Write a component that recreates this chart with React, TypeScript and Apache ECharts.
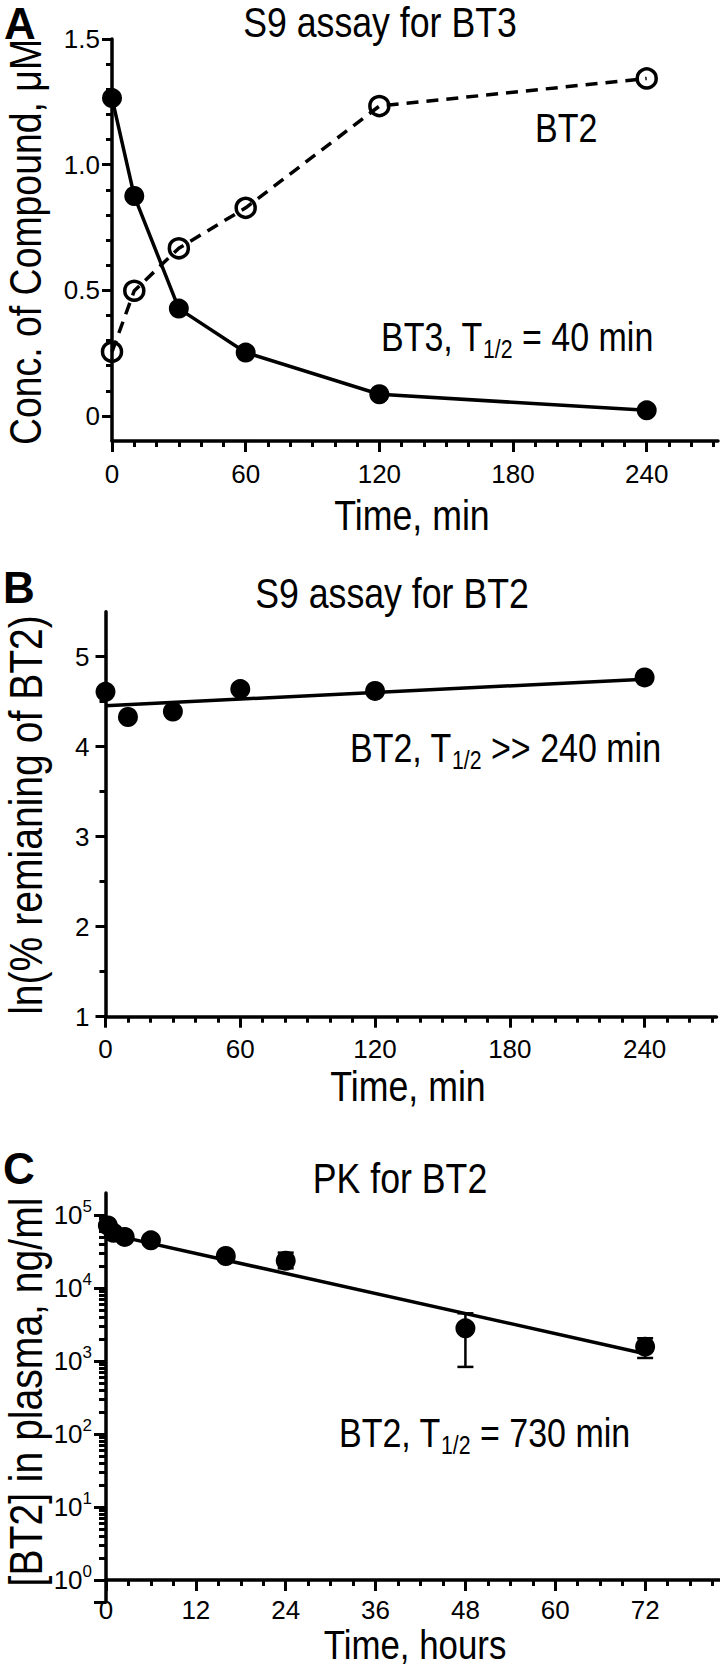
import React, { useEffect, useRef } from "react";
import * as echarts from "echarts";

const SANS = "'Liberation Sans', Arial, Helvetica, sans-serif";
const NARROW = 0.85;

// ---------- Panel A: S9 assay for BT3 ----------
const timeA = [0, 10, 30, 60, 120, 240];
const bt3A = [1.265, 0.875, 0.427, 0.252, 0.086, 0.022];
const bt2A = [0.255, 0.498, 0.667, 0.828, 1.233, 1.343];
const xMajorA = [0, 60, 120, 180, 240];
const xMinorA = [10, 20, 30, 40, 50, 70, 80, 90, 100, 110, 130, 140, 150, 160, 170, 190, 200, 210, 220, 230, 250, 260, 270];
const yMajorA = [0, 0.5, 1.0, 1.5];
const yMinorA = [0.1, 0.2, 0.3, 0.4, 0.6, 0.7, 0.8, 0.9, 1.1, 1.2, 1.3, 1.4];

// ---------- Panel B: S9 assay for BT2 ----------
const timeB = [0, 10, 30, 60, 120, 240];
const lnB = [4.61, 4.33, 4.39, 4.64, 4.62, 4.77];
const fitTimeB = [0, 240];
const fitLnB = [4.455, 4.75];
const yMajorB = [1, 2, 3, 4, 5];
const yMinorB = [1.5, 2.5, 3.5, 4.5];

// ---------- Panel C: PK for BT2 ----------
const timeC = [0.25, 1, 2.5, 6, 16, 24, 48, 72];
const concC = [72000, 57000, 50000, 45000, 27400, 23600, 2800, 1570];
const errTimeC = [24, 48, 72];
const errLowC = [18600, 830, 1100];
const errHighC = [30500, 4500, 2050];
const fitTimeC = [0, 72];
const fitConcC = [56000, 1260];
const xMajorC = [0, 12, 24, 36, 48, 60, 72];
const xMinorC = [3, 6, 9, 15, 18, 21, 27, 30, 33, 39, 42, 45, 51, 54, 57, 63, 66, 69, 75, 78, 81];
const yMajorLabelsC = [1, 10, 100, 1000, 10000, 100000];
const yMajorTicksC = [0.5, 1, 10, 100, 1000, 10000, 100000];
const yMinorMultipliers = [2, 3, 4, 5, 6, 7, 8, 9];
const yDecadesC = [1, 10, 100, 1000, 10000];

const BLACK = "#000";
const LW = 3.5;

function mainAxis(opts: any) {
  const {
    type = "value", gridIndex, min, max, position, offset = 0,
    majors, labels, labelMargin, formatter, rich, tickLen = 11,
  } = opts;
  return {
    type, gridIndex, min, max, position, offset,
    logBase: 10,
    axisLine: { show: true, onZero: false, lineStyle: { color: BLACK, width: LW } },
    axisTick: { show: true, inside: false, length: tickLen, lineStyle: { color: BLACK, width: 3 }, customValues: majors },
    axisLabel: {
      show: true, customValues: labels || majors, margin: labelMargin,
      fontSize: 26, fontFamily: SANS, color: BLACK, formatter, rich,
    },
    splitLine: { show: false },
    minorTick: { show: false },
  };
}

function minorAxis(opts: any) {
  const { type = "value", gridIndex, min, max, position, offset = 0, minors, tickLen = 6 } = opts;
  return {
    type, gridIndex, min, max, position, offset,
    logBase: 10,
    axisLine: { show: false, onZero: false },
    axisTick: { show: true, inside: false, length: tickLen, lineStyle: { color: BLACK, width: 3 }, customValues: minors },
    axisLabel: { show: false },
    splitLine: { show: false },
  };
}

function buildOption() {
  const gridA = { left: 112, top: 39, width: 606, height: 402 };
  const gridB = { left: 105.5, top: 611.7, width: 611, height: 405 };
  const gridC = { left: 106, top: 1193, width: 617, height: 409 };

  const yMinC = 0.5;
  const yMaxC = 200000;
  const xOffsetC = -(gridC.height * Math.log10(1 / yMinC)) / Math.log10(yMaxC / yMinC);

  const yMinorC: number[] = [];
  yDecadesC.forEach((d) => yMinorMultipliers.forEach((m) => yMinorC.push(m * d)));

  const fmtA = (v: number) => (v === 0 ? "0" : v.toFixed(1));
  const fmtC = (v: number) => `{b|10}{s|${Math.round(Math.log10(v))}}`;
  const richC = {
    b: { fontSize: 26, fontFamily: SANS, color: BLACK },
    s: { fontSize: 17, fontFamily: SANS, color: BLACK, padding: [0, 0, 17, 0] },
  };

  const annoRich = {
    m: { fontSize: 40, fontFamily: SANS, fill: BLACK, color: BLACK },
    s: { fontSize: 25, fontFamily: SANS, fill: BLACK, color: BLACK, padding: [24, 0, 0, 0] },
  };

  const textEl = (x: number, y: number, text: string, size: number, align = "left", rotation = 0, scaleX = NARROW, weight = "normal") => ({
    type: "text", x, y, rotation, scaleX, z: 10,
    style: {
      text, fill: BLACK, fontSize: size, fontFamily: SANS, fontWeight: weight,
      align, verticalAlign: "middle", textAlign: align, textVerticalAlign: "middle",
    },
  });
  const richEl = (x: number, y: number, text: string) => ({
    type: "text", x, y, scaleX: NARROW, z: 10,
    style: { text, rich: annoRich, fill: BLACK, fontSize: 40, fontFamily: SANS, align: "left", verticalAlign: "middle", textAlign: "left", textVerticalAlign: "middle" },
  });

  const filled = { color: BLACK, opacity: 1 };
  const R90 = Math.PI / 2;

  return {
    animation: false,
    backgroundColor: "#fff",
    grid: [gridA, gridB, gridC],
    xAxis: [
      mainAxis({ gridIndex: 0, min: 0, max: 272, position: "bottom", majors: xMajorA, labelMargin: 20 }),
      minorAxis({ gridIndex: 0, min: 0, max: 272, position: "bottom", minors: xMinorA }),
      mainAxis({ gridIndex: 1, min: 0, max: 272, position: "bottom", majors: xMajorA, labelMargin: 19 }),
      minorAxis({ gridIndex: 1, min: 0, max: 272, position: "bottom", minors: xMinorA }),
      mainAxis({ gridIndex: 2, min: 0, max: 82, position: "bottom", offset: xOffsetC, majors: xMajorC, labelMargin: 17 }),
      minorAxis({ gridIndex: 2, min: 0, max: 82, position: "bottom", offset: xOffsetC, minors: xMinorC }),
    ],
    yAxis: [
      mainAxis({ gridIndex: 0, min: -0.1, max: 1.5, position: "left", majors: yMajorA, labelMargin: 12, formatter: fmtA, tickLen: 10 }),
      minorAxis({ gridIndex: 0, min: -0.1, max: 1.5, position: "left", minors: yMinorA }),
      mainAxis({ gridIndex: 1, min: 1, max: 5.5, position: "left", majors: yMajorB, labelMargin: 16, tickLen: 10 }),
      minorAxis({ gridIndex: 1, min: 1, max: 5.5, position: "left", minors: yMinorB }),
      mainAxis({ type: "log", gridIndex: 2, min: yMinC, max: yMaxC, position: "left", majors: yMajorTicksC, labels: yMajorLabelsC, labelMargin: 14, formatter: fmtC, rich: richC, tickLen: 12 }),
      minorAxis({ type: "log", gridIndex: 2, min: yMinC, max: yMaxC, position: "left", minors: yMinorC, tickLen: 7 }),
    ],
    series: [
      {
        type: "line", xAxisIndex: 0, yAxisIndex: 0, clip: false, z: 4,
        data: timeA.map((t, i) => [t, bt3A[i]]),
        symbol: "circle", symbolSize: 20, itemStyle: filled,
        lineStyle: { color: BLACK, width: LW },
      },
      {
        type: "line", xAxisIndex: 0, yAxisIndex: 0, clip: false, z: 3,
        data: timeA.map((t, i) => [t, bt2A[i]]),
        symbol: "circle", symbolSize: 19,
        itemStyle: { color: "rgba(255,255,255,0)", borderColor: BLACK, borderWidth: 3.5, opacity: 1 },
        lineStyle: { color: BLACK, width: LW, type: [12, 8] },
      },
      {
        type: "line", xAxisIndex: 2, yAxisIndex: 2, clip: false, showSymbol: false, symbol: "none",
        data: fitTimeB.map((t, i) => [t, fitLnB[i]]),
        lineStyle: { color: BLACK, width: LW },
      },
      {
        type: "scatter", xAxisIndex: 2, yAxisIndex: 2, clip: false, z: 4,
        data: timeB.map((t, i) => [t, lnB[i]]),
        symbol: "circle", symbolSize: 20, itemStyle: filled,
      },
      {
        type: "custom", xAxisIndex: 4, yAxisIndex: 4, clip: false, z: 3,
        data: errTimeC.map((t, i) => [t, errLowC[i], errHighC[i]]),
        encode: { x: 0, y: [1, 2] },
        renderItem: (params: any, api: any) => {
          const x = api.value(0);
          const lo = api.coord([x, api.value(1)]);
          const hi = api.coord([x, api.value(2)]);
          const w = 8;
          const style = { stroke: BLACK, lineWidth: 2.5, fill: "none" };
          return {
            type: "group",
            children: [
              { type: "line", shape: { x1: lo[0], y1: lo[1], x2: hi[0], y2: hi[1] }, style },
              { type: "line", shape: { x1: hi[0] - w, y1: hi[1], x2: hi[0] + w, y2: hi[1] }, style },
              { type: "line", shape: { x1: lo[0] - w, y1: lo[1], x2: lo[0] + w, y2: lo[1] }, style },
            ],
          };
        },
      },
      {
        type: "line", xAxisIndex: 4, yAxisIndex: 4, clip: false, showSymbol: false, symbol: "none",
        data: fitTimeC.map((t, i) => [t, fitConcC[i]]),
        lineStyle: { color: BLACK, width: LW },
      },
      {
        type: "scatter", xAxisIndex: 4, yAxisIndex: 4, clip: false, z: 4,
        data: timeC.map((t, i) => [t, concC[i]]),
        symbol: "circle", symbolSize: 20, itemStyle: filled,
      },
    ],
    graphic: [
      // panel letters
      textEl(20, 23, "A", 44, "center", 0, 1, "bold"),
      textEl(19, 587, "B", 44, "center", 0, 1, "bold"),
      textEl(19, 1168, "C", 44, "center", 0, 1, "bold"),
      // titles
      textEl(380, 22, "S9 assay for BT3", 42, "center"),
      textEl(392, 593, "S9 assay for BT2", 42, "center"),
      textEl(400, 1178, "PK for BT2", 42, "center"),
      // axis titles
      textEl(412, 515, "Time, min", 42, "center"),
      textEl(408, 1086, "Time, min", 42, "center"),
      textEl(415, 1645, "Time, hours", 41, "center"),
      textEl(26, 242, "Conc. of Compound, \u03bcM", 44, "center", R90),
      textEl(26, 815, "ln(% remianing of BT2)", 46, "center", R90),
      textEl(26, 1392, "[BT2] in plasma, ng/ml", 46, "center", R90),
      // annotations
      textEl(535, 128, "BT2", 40, "left"),
      richEl(381, 337, "{m|BT3, T}{s|1/2}{m| = 40 min}"),
      richEl(350, 748, "{m|BT2, T}{s|1/2}{m| >> 240 min}"),
      richEl(339, 1433, "{m|BT2, T}{s|1/2}{m| = 730 min}"),
    ],
  };
}

export default function App() {
  const ref = useRef<HTMLDivElement>(null);
  useEffect(() => {
    if (!ref.current) return;
    const chart = echarts.init(ref.current, null, { renderer: "svg" });
    chart.setOption(buildOption() as any);
    return () => chart.dispose();
  }, []);
  return (
    <div style={{ position: "absolute", left: 0, top: 0, width: 720, height: 1671, background: "#fff", overflow: "hidden" }}>
      <div ref={ref} style={{ width: 720, height: 1671 }} />
    </div>
  );
}
